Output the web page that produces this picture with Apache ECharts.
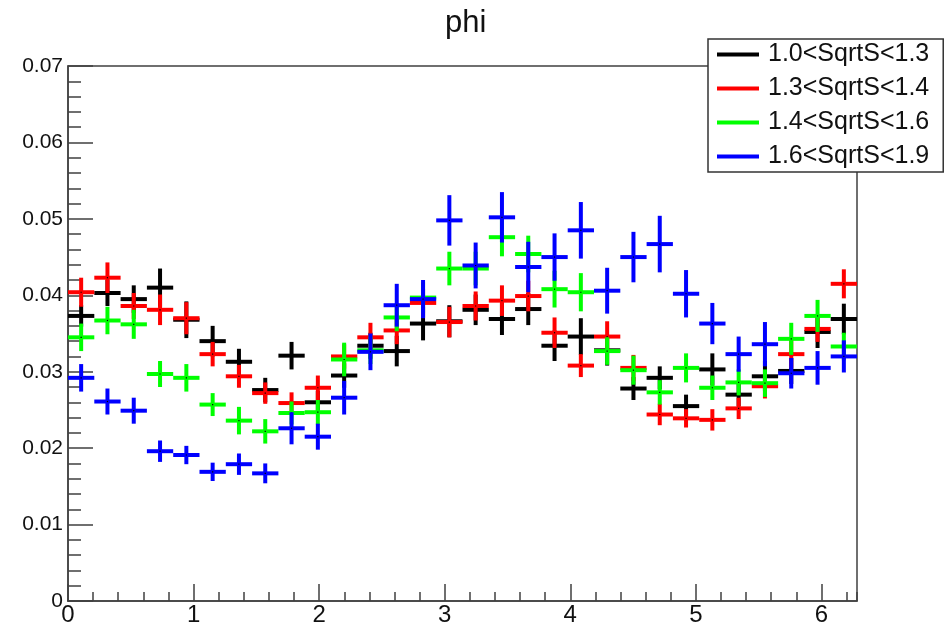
<!DOCTYPE html>
<html><head><meta charset="utf-8">
<script src="https://cdn.jsdelivr.net/npm/echarts@6/dist/echarts.min.js"></script>
<style>html,body{margin:0;padding:0;background:#fff}#c{width:950px;height:627px}</style>
</head><body><div id="c"></div>
<script>
const NBINS = 30;
const XMAX = 2 * Math.PI;
const seriesNames = ['1.0<SqrtS<1.3', '1.3<SqrtS<1.4', '1.4<SqrtS<1.6', '1.6<SqrtS<1.9'];
const seriesColors = ['#000000', '#ff0000', '#00ff00', '#0000ff'];

const s1Values = [0.0373,0.0403,0.0395,0.0410,0.0368,0.0340,0.0313,0.0276,0.0321,0.0260,
                  0.0295,0.0334,0.0327,0.0363,0.0366,0.0381,0.0369,0.0382,0.0334,0.0346,
                  0.0328,0.0278,0.0292,0.0255,0.0303,0.0270,0.0294,0.0301,0.0352,0.0369];
const s1Errors = [0.0014,0.0017,0.0018,0.0025,0.0024,0.0020,0.0017,0.0016,0.0018,0.0015,
                  0.0016,0.0017,0.0020,0.0022,0.0021,0.0020,0.0021,0.0021,0.0020,0.0024,
                  0.0020,0.0015,0.0015,0.0015,0.0021,0.0015,0.0020,0.0017,0.0021,0.0020];

const s2Values = [0.0404,0.0423,0.0386,0.0381,0.0370,0.0323,0.0294,0.0272,0.0259,0.0279,
                  0.0320,0.0345,0.0354,0.0390,0.0365,0.0386,0.0393,0.0399,0.0351,0.0308,
                  0.0346,0.0305,0.0244,0.0239,0.0237,0.0252,0.0281,0.0323,0.0356,0.0415];
const s2Errors = [0.0019,0.0020,0.0017,0.0020,0.0021,0.0016,0.0015,0.0014,0.0014,0.0016,
                  0.0016,0.0019,0.0018,0.0019,0.0020,0.0019,0.0020,0.0020,0.0020,0.0015,
                  0.0020,0.0017,0.0014,0.0012,0.0014,0.0014,0.0016,0.0018,0.0017,0.0019];

const s3Values = [0.0345,0.0367,0.0362,0.0297,0.0292,0.0257,0.0236,0.0222,0.0246,0.0247,
                  0.0316,0.0328,0.0371,0.0397,0.0435,0.0435,0.0476,0.0454,0.0408,0.0404,
                  0.0327,0.0302,0.0273,0.0305,0.0279,0.0286,0.0285,0.0343,0.0373,0.0333];
const s3Errors = [0.0018,0.0018,0.0019,0.0017,0.0018,0.0015,0.0018,0.0016,0.0015,0.0016,
                  0.0022,0.0018,0.0018,0.0020,0.0022,0.0022,0.0025,0.0024,0.0024,0.0025,
                  0.0018,0.0019,0.0016,0.0019,0.0016,0.0017,0.0018,0.0021,0.0021,0.0018];

const s4Values = [0.0292,0.0261,0.0249,0.0196,0.0191,0.0169,0.0179,0.0167,0.0226,0.0215,
                  0.0266,0.0326,0.0387,0.0395,0.0498,0.0439,0.0502,0.0437,0.0450,0.0485,
                  0.0406,0.0450,0.0467,0.0402,0.0363,0.0323,0.0336,0.0298,0.0305,0.0320];
const s4Errors = [0.0018,0.0017,0.0017,0.0014,0.0012,0.0012,0.0014,0.0013,0.0021,0.0017,
                  0.0022,0.0024,0.0028,0.0025,0.0033,0.0030,0.0033,0.0033,0.0031,0.0037,
                  0.0030,0.0033,0.0037,0.0031,0.0027,0.0023,0.0029,0.0020,0.0022,0.0021];

const allValues = [s1Values, s2Values, s3Values, s4Values];
const allErrors = [s1Errors, s2Errors, s3Errors, s4Errors];

const FONT = 'Liberation Sans';
const AXIS_COLOR = '#404040';

function buildData(vals, errs) {
  const w = XMAX / NBINS;
  return vals.map((v, i) => [(i + 0.5) * w, v, errs[i], w / 2]);
}

function renderItem(params, api) {
  const x = api.value(0), y = api.value(1), e = api.value(2), hw = api.value(3);
  const l = api.coord([x - hw, y]);
  const r = api.coord([x + hw, y]);
  const t = api.coord([x, y + e]);
  const b = api.coord([x, y - e]);
  const c = api.visual('color');
  return {
    type: 'group',
    children: [
      { type: 'line', shape: { x1: l[0], y1: l[1], x2: r[0], y2: r[1] }, style: { stroke: c, lineWidth: 4, lineCap: 'butt' } },
      { type: 'line', shape: { x1: t[0], y1: t[1], x2: b[0], y2: b[1] }, style: { stroke: c, lineWidth: 4, lineCap: 'butt' } },
      { type: 'rect', shape: { x: (l[0] + r[0]) / 2 - 0.6, y: l[1] - 0.6, width: 1.2, height: 1.2 }, style: { fill: '#000' } }
    ]
  };
}

const chart = echarts.init(document.getElementById('c'), null, { renderer: 'canvas' });
chart.setOption({
  animation: false,
  backgroundColor: '#ffffff',
  title: {
    text: 'phi',
    left: 440, top: 3,
    textStyle: { fontFamily: FONT, fontSize: 31, fontWeight: 'normal', color: '#111' }
  },
  legend: {
    left: 708, top: 39, orient: 'vertical',
    data: seriesNames.map(n => ({ name: n, icon: 'rect' })),
    itemWidth: 42, itemHeight: 4, itemGap: 9,
    padding: [3, 14, 3, 9],
    borderColor: '#333', borderWidth: 1.5, backgroundColor: '#fff',
    selectedMode: false,
    textStyle: { fontFamily: FONT, fontSize: 25, color: '#111', lineHeight: 24, padding: [0, 0, 0, 4] }
  },
  grid: {
    left: 68, right: 93, top: 66, bottom: 25,
    show: true, borderColor: AXIS_COLOR, borderWidth: 1.5, backgroundColor: 'transparent'
  },
  xAxis: [
    {
      type: 'value', min: 0, max: XMAX, interval: 1,
      axisLine: { show: true, onZero: false, lineStyle: { color: AXIS_COLOR, width: 1.5 } },
      axisTick: { show: true, inside: true, length: 17, lineStyle: { color: AXIS_COLOR, width: 1.5 } },
      axisLabel: { showMaxLabel: false, fontFamily: FONT, fontSize: 24, color: '#111', margin: 2,
                   formatter: v => (Math.abs(v - Math.round(v)) < 1e-9 ? String(Math.round(v)) : '') },
      splitLine: { show: false }
    },
    {
      type: 'value', min: 0, max: XMAX, interval: 0.2, position: 'bottom',
      axisLine: { show: false },
      axisTick: { show: true, inside: true, length: 9, lineStyle: { color: AXIS_COLOR, width: 1.5 } },
      axisLabel: { show: false },
      splitLine: { show: false }
    }
  ],
  yAxis: {
    type: 'value', min: 0, max: 0.07, interval: 0.01,
    axisLine: { show: true, onZero: false, lineStyle: { color: AXIS_COLOR, width: 1.5 } },
    axisTick: { show: true, inside: true, length: 25, lineStyle: { color: AXIS_COLOR, width: 1.5 } },
    minorTick: { show: true, splitNumber: 5, length: 13, lineStyle: { color: AXIS_COLOR, width: 1.5 } },
    axisLabel: { fontFamily: FONT, fontSize: 21, color: '#111', margin: 5,
                 formatter: v => (v === 0 ? '0' : v.toFixed(2)) },
    splitLine: { show: false }
  },
  series: seriesNames.map((n, i) => ({
    name: n,
    type: 'custom',
    xAxisIndex: 0,
    color: seriesColors[i],
    itemStyle: { color: seriesColors[i] },
    renderItem: renderItem,
    encode: { x: 0, y: 1 },
    clip: true,
    z: 2 + i,
    data: buildData(allValues[i], allErrors[i])
  }))
});
</script>
</body></html>
